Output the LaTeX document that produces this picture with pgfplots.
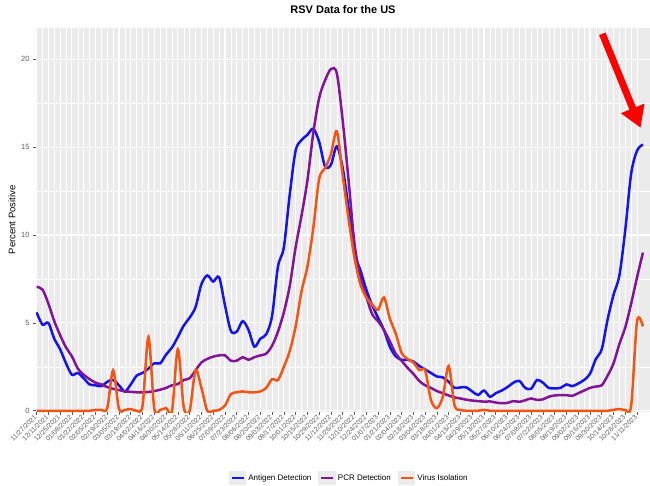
\documentclass[border=0pt]{standalone}
\usepackage{fontspec}
\setmainfont{Liberation Sans}
\usepackage{pgfplots}
\usepackage{pgfplotstable}
\pgfplotsset{compat=1.18}
\usetikzlibrary{arrows.meta}
\definecolor{panelbg}{RGB}{235,235,235}
\definecolor{antigen}{RGB}{20,20,240}
\definecolor{pcr}{RGB}{130,20,150}
\definecolor{virus}{RGB}{245,85,20}
\definecolor{ticktext}{RGB}{95,95,95}
\pgfplotstableread{
w a p v
0 5.6 7.05 0
1 4.9 6.9 0
2 5.0 6.1 0
3 4.1 5.1 0
4 3.5 4.3 0
5 2.7 3.6 0
6 2.05 3.1 0
7 2.15 2.4 0
8 1.85 2.05 0
9 1.5 1.8 0
10 1.45 1.6 0.05
11 1.4 1.5 0.05
12 1.65 1.35 0.15
13 1.75 1.25 2.3
14 1.45 1.18 0.1
15 1.1 1.1 0.05
16 1.5 1.08 0.1
17 2.0 1.05 0
18 2.15 1.05 0.3
19 2.4 1.07 4.2
20 2.7 1.12 0.1
21 2.7 1.2 0.05
22 3.2 1.3 0.15
23 3.6 1.45 0
24 4.2 1.52 3.5
25 4.85 1.75 0.2
26 5.3 1.85 0
27 5.9 2.3 2.3
28 7.2 2.75 1.3
29 7.7 2.95 0
30 7.35 3.08 0
31 7.6 3.15 0.05
32 6.0 3.15 0.3
33 4.55 2.85 0.95
34 4.5 2.85 1.05
35 5.1 3.05 1.1
36 4.6 2.9 1.05
37 3.65 3.05 1.05
38 4.1 3.15 1.1
39 4.35 3.25 1.3
40 5.4 3.7 1.8
41 8.2 4.5 1.75
42 9.3 5.6 2.5
43 12.3 7.1 3.4
44 14.8 9.3 4.8
45 15.4 11.1 6.8
46 15.7 13.1 8.2
47 16.05 15.8 10.4
48 15.3 17.8 13.2
49 13.9 18.8 13.8
50 14.0 19.45 14.6
51 15.05 19.2 15.9
52 13.8 16.5 13.4
53 11.5 13.1 10.9
54 9.0 9.5 8.7
55 8.0 7.6 7.2
56 6.9 6.5 6.45
57 6.0 5.5 6.05
58 5.3 5.1 5.75
59 4.6 4.6 6.45
60 3.65 3.95 5.25
61 3.1 3.25 4.4
62 2.9 2.85 3.3
63 2.9 2.45 2.95
64 2.8 2.1 2.75
65 2.55 1.7 2.32
66 2.35 1.45 2.3
67 2.15 1.3 0.6
68 1.95 1.12 0.15
69 1.9 1.0 0.8
70 1.65 0.87 2.55
71 1.3 0.76 0.3
72 1.33 0.7 0.05
73 1.33 0.63 0
74 1.1 0.58 0
75 0.9 0.55 0
76 1.15 0.52 0.05
77 0.8 0.53 0
78 1.0 0.47 0
79 1.15 0.43 0
80 1.35 0.45 0
81 1.6 0.55 0
82 1.7 0.51 0
83 1.3 0.6 0
84 1.25 0.7 0
85 1.75 0.62 0
86 1.6 0.65 0
87 1.3 0.8 0
88 1.28 0.87 0
89 1.3 0.89 0
90 1.5 0.89 0
91 1.4 0.85 0
92 1.55 1.0 0
93 1.75 1.15 0
94 2.1 1.3 0
95 2.95 1.38 0
96 3.5 1.45 0
97 5.2 2.0 0
98 6.6 2.7 0.05
99 7.7 3.8 0.1
100 10.3 4.75 0.05
101 13.5 6.1 0.3
102 14.8 7.6 5.1
103 15.15 9.0 4.8
}\rsv

\begin{document}
\begin{tikzpicture}
\path[use as bounding box] (0,0) rectangle (650pt,485pt);
\begin{axis}[
  at={(36pt,73pt)}, anchor=south west,
  scale only axis, width=614pt, height=384pt,
  xmin=-0.1, xmax=104.2, ymin=-0.07, ymax=21.78,
  axis background/.style={fill=panelbg},
  axis line style={draw=none},
  grid=both,
  major grid style={white, line width=1.1pt},
  minor grid style={white, line width=0.5pt},
  xtick={0,2,...,102},
  minor x tick num=1,
  ytick={0,5,10,15,20},
  minor y tick num=1,
  xticklabels={11/27/2021,12/11/2021,12/25/2021,01/08/2022,01/22/2022,02/05/2022,02/19/2022,03/05/2022,03/19/2022,04/02/2022,04/16/2022,04/30/2022,05/14/2022,05/28/2022,06/11/2022,06/25/2022,07/09/2022,07/23/2022,08/06/2022,08/20/2022,09/03/2022,09/17/2022,10/01/2022,10/15/2022,10/29/2022,11/12/2022,11/26/2022,12/10/2022,12/24/2022,01/07/2023,01/21/2023,02/04/2023,02/18/2023,03/04/2023,03/18/2023,04/01/2023,04/15/2023,04/29/2023,05/13/2023,05/27/2023,06/10/2023,06/24/2023,07/08/2023,07/22/2023,08/05/2023,08/19/2023,09/02/2023,09/16/2023,09/30/2023,10/14/2023,10/28/2023,11/11/2023},
  tick pos=left,
  tick align=outside,
  major tick length=3pt,
  minor tick length=0pt,
  tick style={color=ticktext, line width=0.6pt},
  xticklabel style={rotate=45, anchor=east, font=\fontsize{6.8}{8}\selectfont, text=ticktext, inner sep=1.5pt},
  yticklabel style={font=\fontsize{7.5}{8}\selectfont, text=ticktext},
  /pgf/number format/assume math mode=true,
  ylabel={Percent Positive},
  ylabel style={at={(axis description cs:-0.039,0.5)}, anchor=center, font=\fontsize{9.5}{11}\selectfont},
  title={RSV Data for the US},
  title style={at={(axis description cs:0.5,1)}, anchor=south, yshift=6pt, inner sep=2pt, font=\bfseries\fontsize{11}{13}\selectfont},
  legend style={at={(0.51,-0.172)}, anchor=center, legend columns=3, draw=none, fill=none,
    font=\fontsize{8}{9}\selectfont, /tikz/every even column/.append style={column sep=5pt}},
  legend image code/.code={\fill[panelbg] (0pt,-6pt) rectangle (15pt,6pt); \draw[#1] (1.5pt,0pt) -- (13.5pt,0pt);},
]
\addplot[antigen, line width=2.5pt, smooth] table[x=w, y=a] {\rsv};
\addlegendentry{Antigen Detection}
\addplot[pcr, line width=2.5pt, smooth] table[x=w, y=p] {\rsv};
\addlegendentry{PCR Detection}
\addplot[virus, line width=2.5pt, smooth] table[x=w, y=v] {\rsv};
\addlegendentry{Virus Isolation}
\draw[red, line width=7pt, -{Triangle[width=24pt,length=21pt]}] (axis cs:96.1,21.45) -- (axis cs:102.6,16.1);
\end{axis}
\end{tikzpicture}
\end{document}
